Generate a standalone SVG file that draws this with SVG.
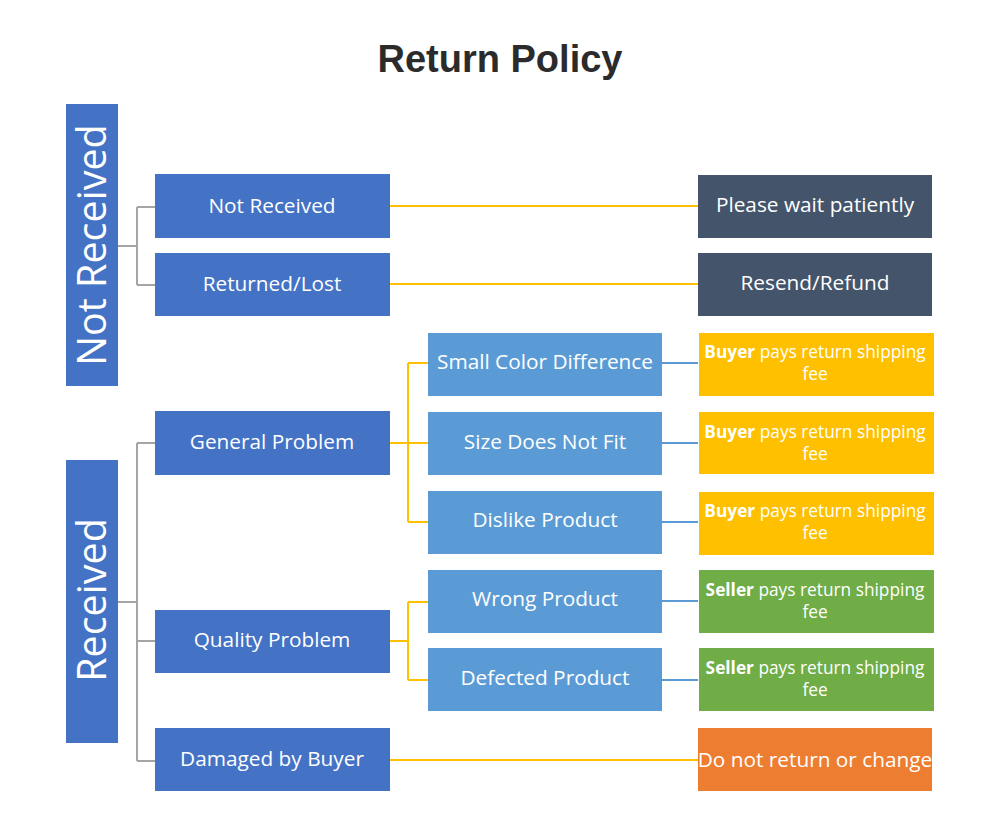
<svg xmlns="http://www.w3.org/2000/svg" width="1000" height="840" viewBox="0 0 1000 840">
<style>
.t{font-family:"Open Sans","Liberation Sans",sans-serif;fill:#fff;text-anchor:middle}
.m{font-size:20.8px}
.s{font-size:17.3px}
.v{font-size:39.5px}
.b1{fill:#4472C4}
.b2{fill:#5B9BD5}
.dk{fill:#44546A}
.yl{fill:#FFC000}
.gr{fill:#70AD47}
.or{fill:#ED7D31}
.cg{stroke:#A5A5A5;stroke-width:2;fill:none}
.cy{stroke:#FFC000;stroke-width:2;fill:none}
.cb{stroke:#5B9BD5;stroke-width:2;fill:none}
</style>
<rect width="1000" height="840" fill="#fff"/>
<text x="500" y="72" font-family="Liberation Sans,Arial,sans-serif" font-weight="bold" font-size="38" fill="#2b2b2b" text-anchor="middle">Return Policy</text>
<g id="connectors">
<path class="cg" d="M118,246H137M137,207V285M137,207H155M137,285H155"/>
<path class="cg" d="M118,602H137M137,443V761M137,443H155M137,641H155M137,761H155"/>
<path class="cy" d="M390,206H698M390,284H698M390,760H698"/>
<path class="cy" d="M390,443H408M408,363V522M408,363H428M408,443H428M408,522H428"/>
<path class="cy" d="M390,641H408M408,602V680M408,602H428M408,680H428"/>
<path class="cb" d="M662,363H698M662,443H698M662,522H698M662,601H698M662,680H698"/>
</g>
<g id="cat-not-received"><rect class="b1" x="66" y="104" width="52" height="282"/><text class="t v" transform="translate(106,245) rotate(-90)">Not Received</text></g>
<g id="cat-received"><rect class="b1" x="66" y="460" width="52" height="283"/><text class="t v" transform="translate(106,600) rotate(-90)">Received</text></g>
<g id="n-not-received"><rect class="b1" x="155" y="174" width="235" height="64"/><text class="t m" x="272" y="213">Not Received</text></g>
<g id="n-returned-lost"><rect class="b1" x="155" y="253" width="235" height="63"/><text class="t m" x="272" y="291">Returned/Lost</text></g>
<g id="n-general"><rect class="b1" x="155" y="411" width="235" height="64"/><text class="t m" x="272" y="449">General Problem</text></g>
<g id="n-quality"><rect class="b1" x="155" y="610" width="235" height="63"/><text class="t m" x="272" y="647">Quality Problem</text></g>
<g id="n-damaged"><rect class="b1" x="155" y="728" width="235" height="63"/><text class="t m" x="272" y="766">Damaged by Buyer</text></g>
<g id="n-color"><rect class="b2" x="428" y="333" width="234" height="63"/><text class="t m" x="545" y="369">Small Color Difference</text></g>
<g id="n-size"><rect class="b2" x="428" y="412" width="234" height="63"/><text class="t m" x="545" y="449">Size Does Not Fit</text></g>
<g id="n-dislike"><rect class="b2" x="428" y="491" width="234" height="63"/><text class="t m" x="545" y="527">Dislike Product</text></g>
<g id="n-wrong"><rect class="b2" x="428" y="570" width="234" height="63"/><text class="t m" x="545" y="606">Wrong Product</text></g>
<g id="n-defected"><rect class="b2" x="428" y="648" width="234" height="63"/><text class="t m" x="545" y="685">Defected Product</text></g>
<g id="r-wait"><rect class="dk" x="698" y="175" width="234" height="63"/><text class="t m" x="815" y="212">Please wait patiently</text></g>
<g id="r-resend"><rect class="dk" x="698" y="253" width="234" height="63"/><text class="t m" x="815" y="290">Resend/Refund</text></g>
<g id="r-buyer1"><rect class="yl" x="699" y="333" width="235" height="63"/><text class="t s" x="815" y="358"><tspan font-weight="bold">Buyer</tspan> pays return shipping</text><text class="t s" x="815" y="380">fee</text></g>
<g id="r-buyer2"><rect class="yl" x="699" y="412" width="235" height="62"/><text class="t s" x="815" y="438"><tspan font-weight="bold">Buyer</tspan> pays return shipping</text><text class="t s" x="815" y="460">fee</text></g>
<g id="r-buyer3"><rect class="yl" x="699" y="492" width="235" height="63"/><text class="t s" x="815" y="517"><tspan font-weight="bold">Buyer</tspan> pays return shipping</text><text class="t s" x="815" y="539">fee</text></g>
<g id="r-seller1"><rect class="gr" x="699" y="570" width="235" height="63"/><text class="t s" x="815" y="596"><tspan font-weight="bold">Seller</tspan> pays return shipping</text><text class="t s" x="815" y="618">fee</text></g>
<g id="r-seller2"><rect class="gr" x="699" y="648" width="235" height="63"/><text class="t s" x="815" y="674"><tspan font-weight="bold">Seller</tspan> pays return shipping</text><text class="t s" x="815" y="696">fee</text></g>
<g id="r-donot"><rect class="or" x="698" y="728" width="234" height="63"/><text class="t m" x="815" y="767">Do not return or change</text></g>
</svg>
